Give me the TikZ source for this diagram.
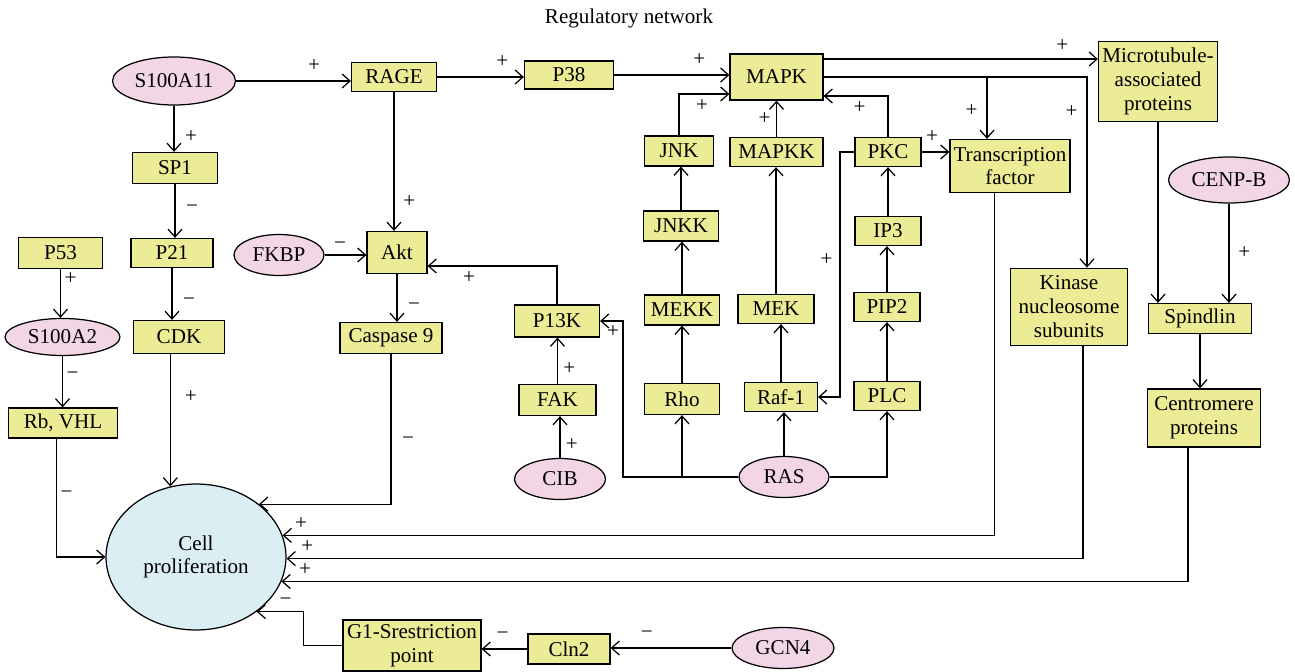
\documentclass[tikz,border=0pt]{standalone}
\usepackage{fontspec}
\setmainfont{Liberation Serif}
\usetikzlibrary{shapes.geometric,arrows.meta}
\definecolor{boxfill}{RGB}{236,236,150}
\definecolor{molfill}{RGB}{242,214,230}
\definecolor{cellfill}{RGB}{219,238,243}

\begin{document}
\begin{tikzpicture}[x=0.02cm,y=-0.02cm,line width=0.7pt,
	>={Straight Barb[length=4.5pt,width=8pt]},
	every node/.style={font=\fontsize{12}{13.5}\selectfont},
	prot/.style={draw,fill=boxfill,align=center,inner sep=1pt},
	mol/.style={draw,ellipse,fill=molfill,inner sep=1pt},
	sign/.style={inner sep=2pt}]
	\useasboundingbox (0,0) rectangle (1295,672);
	\node (title) at (629,18) {Regulatory network};
	% top row
	\node[mol,minimum width=24.6mm,minimum height=9.6mm] (s100a11) at (174,81) {S100A11};
	\node[prot,minimum width=17mm,minimum height=5.8mm] (rage) at (394,77) {RAGE};
	\node[prot,minimum width=17.8mm,minimum height=5.6mm] (p38) at (569,75) {P38};
	\node[prot,minimum width=18.6mm,minimum height=9.2mm] (mapk) at (776.5,77) {MAPK};
	\node[prot,minimum width=23.8mm,minimum height=16mm] (micro) at (1158,81.5) {Microtubule-\\associated\\proteins};
	% second row
	\node[prot,minimum width=17mm,minimum height=6.2mm] (sp1) at (175,168) {SP1};
	\node[prot,minimum width=13.8mm,minimum height=6mm] (jnk) at (679,151) {JNK};
	\node[prot,minimum width=18.6mm,minimum height=5.8mm] (mapkk) at (776.5,152) {MAPKK};
	\node[prot,minimum width=13.2mm,minimum height=5.8mm] (pkc) at (888,152) {PKC};
	\node[prot,minimum width=24mm,minimum height=10.6mm] (tf) at (1010,166) {Transcription\\factor};
	\node[mol,minimum width=24.2mm,minimum height=9.2mm] (cenpb) at (1229,180) {CENP-B};
	% third row
	\node[prot,minimum width=16.8mm,minimum height=6.2mm] (p53) at (60.5,253) {P53};
	\node[prot,minimum width=16.4mm,minimum height=5.8mm] (p21) at (172,253) {P21};
	\node[mol,minimum width=18mm,minimum height=8.2mm] (fkbp) at (279,255) {FKBP};
	\node[prot,minimum width=12mm,minimum height=8.4mm] (akt) at (397,252.5) {Akt};
	\node[prot,minimum width=15mm,minimum height=6mm] (jnkk) at (681,226) {JNKK};
	\node[prot,minimum width=13.2mm,minimum height=5.8mm] (ip3) at (888,231) {IP3};
	\node[prot,minimum width=23.4mm,minimum height=15.4mm] (kinase) at (1069,306.7) {Kinase\\nucleosome\\subunits};
	\node[prot,minimum width=20.6mm,minimum height=6mm] (spindlin) at (1200,318.5) {Spindlin};
	% fourth row
	\node[prot,minimum width=17mm,minimum height=6.4mm] (p13k) at (557,321) {P13K};
	\node[prot,minimum width=15mm,minimum height=6mm] (mekk) at (682,310) {MEKK};
	\node[prot,minimum width=15.2mm,minimum height=5.8mm] (mek) at (776,309) {MEK};
	\node[prot,minimum width=13.2mm,minimum height=5.8mm] (pip2) at (887,307) {PIP2};
	\node[mol,minimum width=23mm,minimum height=7.4mm] (s100a2) at (62.5,337) {S100A2};
	\node[prot,minimum width=18.2mm,minimum height=6.6mm] (cdk) at (179,337) {CDK};
	\node[prot,minimum width=20.4mm,minimum height=6.2mm] (caspase) at (391,338) {Caspase 9};
	% fifth row
	\node[prot,minimum width=21.8mm,minimum height=6mm] (rb) at (63,423) {Rb, VHL};
	\node[prot,minimum width=15.4mm,minimum height=6.2mm] (fak) at (557.5,400) {FAK};
	\node[prot,minimum width=15mm,minimum height=6.2mm] (rho) at (682,399) {Rho};
	\node[prot,minimum width=14.6mm,minimum height=5.8mm] (raf1) at (781,397) {Raf-1};
	\node[prot,minimum width=13.2mm,minimum height=5.8mm] (plc) at (887,396) {PLC};
	\node[prot,minimum width=22.6mm,minimum height=11.6mm] (centromere) at (1204,418) {Centromere\\proteins};
	\node[mol,minimum width=18.2mm,minimum height=8.2mm] (cib) at (560,479) {CIB};
	\node[mol,minimum width=18mm,minimum height=8.2mm] (ras) at (784,477) {RAS};
	% bottom
	\node[draw,ellipse,fill=cellfill,align=center,minimum width=36mm,minimum height=29.2mm] (cell) at (196,557) {Cell\\proliferation};
	\node[prot,minimum width=27.6mm,minimum height=10.2mm] (g1) at (412,645.5) {G1-Srestriction\\point};
	\node[prot,minimum width=16.4mm,minimum height=6mm] (cln2) at (569,649) {Cln2};
	\node[mol,minimum width=20.4mm,minimum height=8.2mm] (gcn4) at (783,648) {GCN4};
	\coordinate (mapktop) at ([yshift=3.6mm]mapk.east);
	\path[->]
	 (s100a11.east) edge node[sign,pos=0.68,above=3pt] {+} (s100a11.east -| rage.west)
	 (s100a11.south) edge node[sign,pos=0.66,right=4pt] {+} (s100a11.south |- sp1.north)
	 (rage.east) edge node[sign,pos=0.75,above=3pt] {+} (rage.east -| p38.west)
	 (rage.south) edge node[sign,pos=0.79,right=3pt] {+} (rage.south |- akt.north)
	 (p38.east) edge node[sign,pos=0.74,above=3pt] {+} (p38.east -| mapk.west)
	 (mapktop) edge node[sign,pos=0.87,above=2pt] {+} (mapktop -| micro.west)
	 (sp1.south) edge node[sign,pos=0.45,right=4pt] {−} (sp1.south |- p21.north)
	 (p21.south) edge node[sign,pos=0.65,right=4pt] {−} (p21.south |- cdk.north)
	 (p53.south) edge node[sign,pos=0.2,right=0pt] {+} (p53.south |- s100a2.north)
	 (s100a2.south) edge node[sign,pos=0.38,right=0pt] {−} (s100a2.south |- rb.north)
	 (fkbp.east) edge node[sign,pos=0.37,above=1pt] {−} (fkbp.east -| akt.west)
	 (akt.south) edge node[sign,pos=0.68,right=4pt] {−} (akt.south |- caspase.north)
	 (cdk.south -| cell.110) edge node[sign,pos=0.32,right=6pt] {+} (cell.110)
	 (fak.north) edge node[sign,pos=0.34,right=1pt] {+} (fak.north |- p13k.south)
	 (cib.north) edge node[sign,pos=0.33,right=1pt] {+} (cib.north |- fak.south)
	 (rho.north) edge (rho.north |- mekk.south)
	 (mekk.north) edge (mekk.north |- jnkk.south)
	 (jnkk.north) edge (jnkk.north |- jnk.south)
	 (raf1.north) edge (raf1.north |- mek.south)
	 (mek.north) edge (mek.north |- mapkk.south)
	 (mapkk.north) edge node[sign,pos=0.5,left=1pt] {+} (mapkk.north |- mapk.south)
	 (plc.north) edge (plc.north |- pip2.south)
	 (pip2.north) edge (pip2.north |- ip3.south)
	 (ip3.north) edge (ip3.north |- pkc.south)
	 (pkc.east) edge node[sign,pos=0.38,above=3pt] {+} (pkc.east -| tf.west)
	 (ras.north) edge (ras.north |- raf1.south)
	 (ras.west -| rho.south) edge (rho.south)
	 (micro.south) edge (micro.south |- spindlin.north)
	 (cenpb.south) edge node[sign,pos=0.49,right=3pt] {+} (cenpb.south |- spindlin.north)
	 (spindlin.south) edge (spindlin.south |- centromere.north)
	 (cln2.west) edge node[sign,pos=0.54,above=3pt] {−} (cln2.west -| g1.east)
	 (gcn4.west) edge node[sign,pos=0.7,above=3pt] {−} (gcn4.west -| cln2.east);
	% bent connectors
	\draw[->] (jnk.north) |- ([yshift=-3.4mm]mapk.west) node[sign,pos=0.73,below=1pt] {+};
	\draw[->] (pkc.north) |- ([yshift=-3.8mm]mapk.east) node[sign,pos=0.72,below=1pt] {+};
	\draw[->] (pkc.west) -| ([xshift=4.4mm]raf1.east) node[sign,pos=0.72,left=2pt] {+} -- (raf1.east);
	\draw[->] (mapk.east) -| ([xshift=-4.6mm]tf.north) node[sign,pos=0.77,left=3pt] {+};
	\draw[->] (mapk.east) -| ([xshift=3.6mm]kinase.north) node[sign,pos=0.59,left=3pt] {+};
	\draw[->] (p13k.north) |- ([yshift=-2.7mm]akt.east) node[sign,pos=0.84,below=1pt] {+};
	\draw[->] (ras.west) -| ([xshift=4.6mm]p13k.east) -- (p13k.east) node[sign,pos=0,below left=0pt] {+};
	\draw[->] (ras.east) -| (plc.south);
	\draw[->] ([xshift=-1.3mm]rb.south) |- (cell.west) node[sign,pos=0.235,right=0pt] {−};
	\draw[->] (caspase.south) |- (cell.40) node[sign,pos=0.29,right=4pt] {−};
	\draw[->] ([xshift=-3.1mm]tf.south) |- (cell.14) node[sign,pos=0.987,above=1pt] {+};
	\draw[->] ([xshift=2.8mm]kinase.south) |- (cell.-1) node[sign,pos=0.987,above=1pt] {+};
	\draw[->] ([xshift=-3.2mm]centromere.south) |- (cell.-16) node[sign,pos=0.987,above=1pt] {+};
	\draw[->] (g1.west) -- ++(-39,0) |- (cell.-42) node[sign,pos=0.69,above=1pt] {−};
\end{tikzpicture}
\end{document}
